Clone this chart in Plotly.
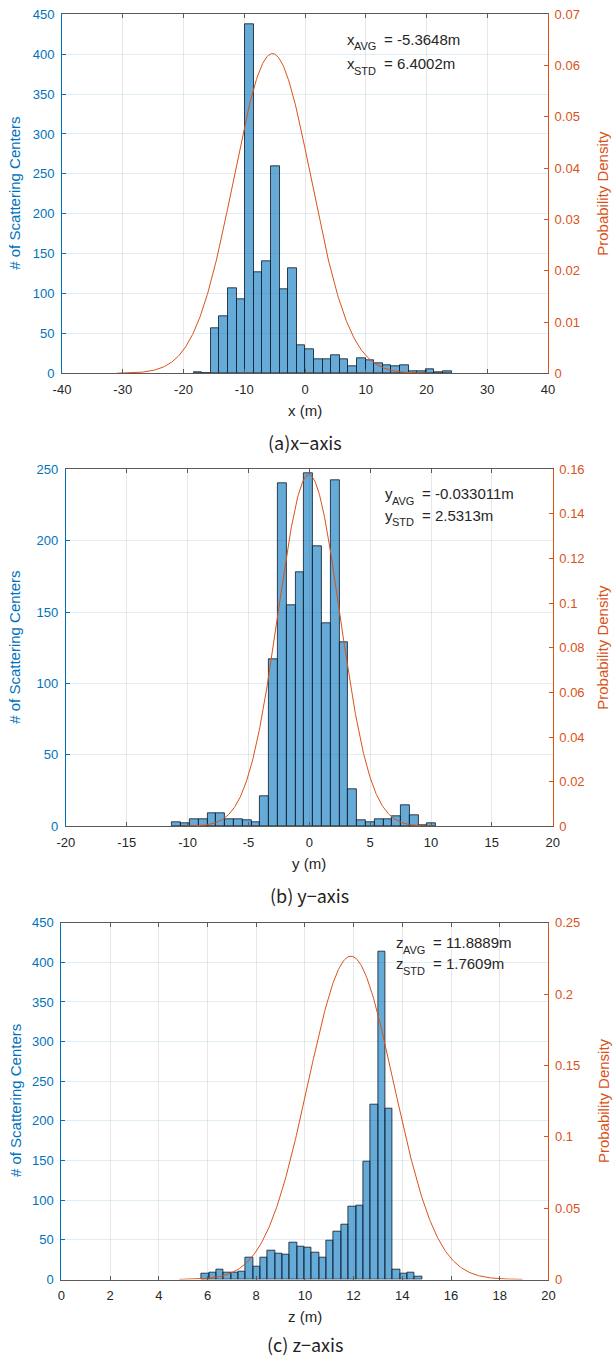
import numpy as np
import plotly.graph_objects as go

# ---------------- data ----------------
# (a) x-axis histogram (30 bins)
x_counts = [1, 0, 57, 72, 106, 93, 438, 127, 141, 259, 105, 132, 35, 30, 18,
            18, 23, 17, 9, 19, 16, 12, 10, 9, 10, 3, 3, 5, 1, 3]
x_bin_start = -18.33
x_bin_width = 1.415
x_avg = -5.3648
x_std = 6.4002

# (b) y-axis histogram (30 bins)
y_counts = [3, 2, 5, 5, 9, 9, 5, 5, 4, 3, 21, 117, 240, 155, 178, 247, 196, 142,
            242, 129, 26, 4, 3, 5, 5, 7, 15, 8, 1, 2]
y_bin_start = -11.25
y_bin_width = 0.7225
y_avg = -0.033011
y_std = 2.5313

# (c) z-axis histogram (30 bins)
z_counts = [7, 8, 12, 8, 8, 10, 27, 16, 27, 36, 33, 31, 46, 41, 40, 34, 28, 49,
            60, 69, 92, 93, 148, 221, 414, 216, 12, 7, 9, 3]
z_bin_start = 5.76
z_bin_width = 0.3017
z_avg = 11.8889
z_std = 1.7609

# axis ticks
x_ticks = [-40, -30, -20, -10, 0, 10, 20, 30, 40]
x_ticklabels = ["-40", "-30", "-20", "-10", "0", "10", "20", "30", "40"]
y_ticks = [-20, -15, -10, -5, 0, 5, 10, 15, 20]
y_ticklabels = ["-20", "-15", "-10", "-5", "0", "5", "10", "15", "20"]
z_ticks = [0, 2, 4, 6, 8, 10, 12, 14, 16, 18, 20]
z_ticklabels = ["0", "2", "4", "6", "8", "10", "12", "14", "16", "18", "20"]

count_ticks_a = [0, 50, 100, 150, 200, 250, 300, 350, 400, 450]
count_ticks_b = [0, 50, 100, 150, 200, 250]
pdf_ticks_a = [0, 0.01, 0.02, 0.03, 0.04, 0.05, 0.06, 0.07]
pdf_ticklabels_a = ["0", "0.01", "0.02", "0.03", "0.04", "0.05", "0.06", "0.07"]
pdf_ticks_b = [0, 0.02, 0.04, 0.06, 0.08, 0.1, 0.12, 0.14, 0.16]
pdf_ticklabels_b = ["0", "0.02", "0.04", "0.06", "0.08", "0.1", "0.12", "0.14", "0.16"]
pdf_ticks_c = [0, 0.05, 0.1, 0.15, 0.2, 0.25]
pdf_ticklabels_c = ["0", "0.05", "0.1", "0.15", "0.2", "0.25"]

captions = ["(a)x\u2212axis", "(b) y\u2212axis", "(c) z\u2212axis"]
xtitles = ["x (m)", "y (m)", "z (m)"]
stat_symbols = ["x", "y", "z"]
stat_subs = ["AVG", "STD"]
stat_values = [["= -5.3648m", "= 6.4002m"],
               ["= -0.033011m", "= 2.5313m"],
               ["= 11.8889m", "= 1.7609m"]]

# ---------------- style ----------------
W, H = 613, 1360
BLUE = "rgb(0,114,189)"
ORANGE = "rgb(217,83,25)"
BAR_FILL = "rgba(0,114,189,0.6)"
BAR_EDGE = "rgba(20,35,50,0.85)"
AX = "#5a5a5a"
TXT = "#262626"
FONT = "Liberation Sans, Arial, sans-serif"
CAPFONT = "Noto Sans CJK KR, sans-serif"


def px_x(p):
    return p / W


def px_y(p):
    return 1 - p / H


panels = [
    dict(counts=x_counts, start=x_bin_start, width=x_bin_width, mu=x_avg, sd=x_std,
         xr=[-40, 40], xt=x_ticks, xtl=x_ticklabels, yr=[0, 450], yt=count_ticks_a,
         pr=[0, 0.07], pt=pdf_ticks_a, ptl=pdf_ticklabels_a,
         dom_x=[62, 548], dom_y=[14.3, 373.3],
         ann_x=6.6, ann_y=[419, 388], cap_y=442, ttl_y=410.5),
    dict(counts=y_counts, start=y_bin_start, width=y_bin_width, mu=y_avg, sd=y_std,
         xr=[-20, 20], xt=y_ticks, xtl=y_ticklabels, yr=[0, 250], yt=count_ticks_b,
         pr=[0, 0.16], pt=pdf_ticks_b, ptl=pdf_ticklabels_b,
         dom_x=[65.9, 552.7], dom_y=[469.3, 826.3],
         ann_x=6.03, ann_y=[233, 218], cap_y=895, ttl_y=863.5),
    dict(counts=z_counts, start=z_bin_start, width=z_bin_width, mu=z_avg, sd=z_std,
         xr=[0, 20], xt=z_ticks, xtl=z_ticklabels, yr=[0, 450], yt=count_ticks_a,
         pr=[0, 0.25], pt=pdf_ticks_c, ptl=pdf_ticklabels_c,
         dom_x=[61.4, 548.4], dom_y=[922.7, 1279.5],
         ann_x=13.66, ann_y=[425, 398], cap_y=1344, ttl_y=1316),
]

fig = go.Figure()
layout = dict(template="none", width=W, height=H, margin=dict(l=0, r=0, t=0, b=0, pad=0),
              paper_bgcolor="white", plot_bgcolor="white", showlegend=False,
              bargap=0, font=dict(family=FONT, size=13, color=TXT))
annotations = []

for i, p in enumerate(panels):
    xa = "x" if i == 0 else f"x{i+1}"
    ya_l = "y" if i == 0 else f"y{2*i+1}"
    ya_r = f"y{2*i+2}"
    xkey = "xaxis" if i == 0 else f"xaxis{i+1}"
    ylkey = "yaxis" if i == 0 else f"yaxis{2*i+1}"
    yrkey = f"yaxis{2*i+2}"

    counts = np.array(p["counts"], dtype=float)
    centers = p["start"] + p["width"] * (np.arange(len(counts)) + 0.5)
    fig.add_trace(go.Bar(x=centers, y=counts, width=p["width"], xaxis=xa, yaxis=ya_l,
                         marker=dict(color=BAR_FILL, line=dict(color=BAR_EDGE, width=1)),
                         hoverinfo="skip"))
    xs = np.linspace(p["mu"] - 4 * p["sd"], p["mu"] + 4 * p["sd"], 400)
    pdf = np.exp(-0.5 * ((xs - p["mu"]) / p["sd"]) ** 2) / (p["sd"] * np.sqrt(2 * np.pi))
    fig.add_trace(go.Scatter(x=xs, y=pdf, mode="lines", xaxis=xa, yaxis=ya_r,
                             line=dict(color=ORANGE, width=1), hoverinfo="skip"))

    dx = [px_x(p["dom_x"][0]), px_x(p["dom_x"][1])]
    dy = [px_y(p["dom_y"][1]), px_y(p["dom_y"][0])]
    layout[xkey] = dict(domain=dx, anchor=ya_l, range=p["xr"], tickmode="array",
                        tickvals=p["xt"], ticktext=p["xtl"], ticks="inside", ticklen=4,
                        tickcolor=AX, showline=True, linecolor=AX, linewidth=1,
                        mirror="ticks", showgrid=True, gridcolor="rgba(0,0,0,0.09)",
                        zeroline=False, tickfont=dict(size=13, color=TXT),
                        ticklabelstandoff=4, automargin=False, fixedrange=True)
    layout[ylkey] = dict(domain=dy, anchor=xa, range=p["yr"], tickmode="array",
                         tickvals=p["yt"], ticks="inside", ticklen=4, tickcolor=BLUE,
                         showline=True, linecolor=BLUE, linewidth=1,
                         showgrid=True, gridcolor="rgba(0,114,189,0.13)", zeroline=False,
                         tickfont=dict(size=13, color=BLUE), ticklabelstandoff=4,
                         automargin=False, fixedrange=True)
    layout[yrkey] = dict(domain=dy, anchor=xa, overlaying=ya_l, side="right",
                         range=p["pr"], tickmode="array", tickvals=p["pt"],
                         ticktext=p["ptl"], ticks="inside", ticklen=4, tickcolor=ORANGE,
                         showline=True, linecolor=ORANGE, linewidth=1, showgrid=False,
                         zeroline=False, tickfont=dict(size=13, color=ORANGE),
                         ticklabelstandoff=3, automargin=False, fixedrange=True)

    # stats text: symbol, subscript, value
    for j in range(2):
        yy = p["ann_y"][j]
        annotations.append(dict(text=stat_symbols[i], x=p["ann_x"], y=yy, xref=xa,
                                yref=ya_l, xanchor="left", yanchor="middle",
                                showarrow=False, font=dict(size=15, color=TXT)))
        annotations.append(dict(text=stat_subs[j], x=p["ann_x"], y=yy, xref=xa,
                                yref=ya_l, xanchor="left", yanchor="middle", xshift=7,
                                yshift=-7, showarrow=False, font=dict(size=11, color=TXT)))
        annotations.append(dict(text=stat_values[i][j], x=p["ann_x"], y=yy, xref=xa,
                                yref=ya_l, xanchor="left", yanchor="middle", xshift=37,
                                showarrow=False, font=dict(size=15, color=TXT)))
    cx = (dx[0] + dx[1]) / 2
    cy = (dy[0] + dy[1]) / 2
    # x-axis title
    annotations.append(dict(text=xtitles[i], x=cx, y=px_y(p["ttl_y"]), xref="paper",
                            yref="paper", xanchor="center", yanchor="middle",
                            showarrow=False, font=dict(size=15, color=TXT)))
    # y-axis titles
    annotations.append(dict(text="# of Scattering Centers", x=px_x(15), y=cy,
                            xref="paper", yref="paper", xanchor="center",
                            yanchor="middle", textangle=-90, showarrow=False,
                            font=dict(size=15, color=BLUE)))
    annotations.append(dict(text="Probability Density", x=px_x(603), y=cy,
                            xref="paper", yref="paper", xanchor="center",
                            yanchor="middle", textangle=-90, showarrow=False,
                            font=dict(size=15, color=ORANGE)))
    # caption
    annotations.append(dict(text=captions[i], x=cx, y=px_y(p["cap_y"]), xref="paper",
                            yref="paper", xanchor="center", yanchor="middle",
                            showarrow=False,
                            font=dict(size=18, color="#222222", family=CAPFONT)))

layout["annotations"] = annotations
fig.update_layout(**layout)
fig.write_html("out.html", config={"displayModeBar": False},
               post_script="document.body.style.margin='0';document.body.style.overflow='hidden';")
